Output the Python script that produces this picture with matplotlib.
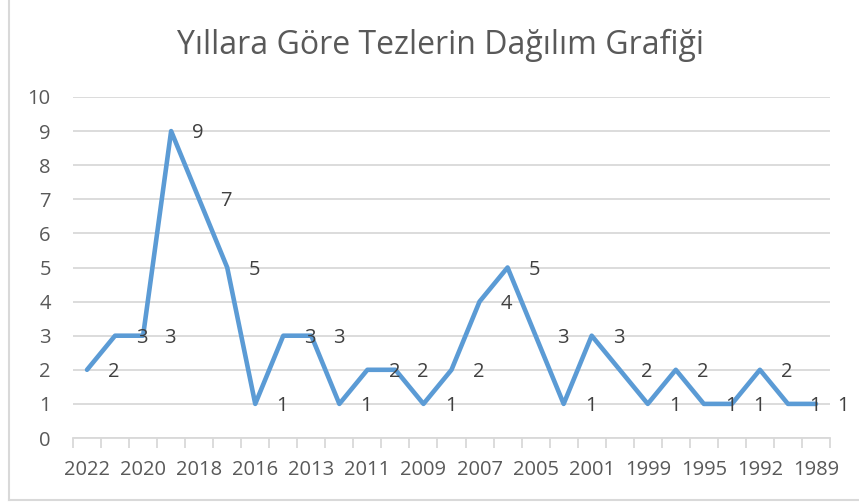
import matplotlib.pyplot as plt
from matplotlib.lines import Line2D

# data (ara yıllar tahmini, grafikte yalnızca her ikinci etiket görünür)
years = ['2022', '2021', '2020', '2019', '2018', '2017', '2016', '2014', '2013',
         '2012', '2011', '2010', '2009', '2008', '2007', '2006', '2005', '2003',
         '2001', '2000', '1999', '1997', '1995', '1993', '1992', '1990', '1989']
counts = [2, 3, 3, 9, 7, 5, 1, 3, 3, 1, 2, 2, 1, 2, 4, 5, 3, 1, 3, 2, 1, 2, 1, 1, 2, 1, 1]

plt.rcParams['font.family'] = ['Open Sans', 'DejaVu Sans']
text_color = '#595959'
grid_color = '#D9D9D9'

fig = plt.figure(figsize=(8.59, 5.04), dpi=100)
ax = fig.add_axes([73 / 859, 66 / 504, 757 / 859, 341 / 504])

x = list(range(len(years)))
ax.plot(x, counts, color='#5B9BD5', linewidth=3.3, solid_joinstyle='round',
        solid_capstyle='round', zorder=3)

# veri etiketleri (sağda)
for xi, v in zip(x, counts):
    ax.annotate(str(v), (xi, v), xytext=(19.5, -1.5), textcoords='offset points',
                ha='center', va='center', fontsize=14.5, color='#404040',
                annotation_clip=False)

ax.set_xlim(-0.5, len(years) - 0.5)
ax.set_ylim(0, 10)
ax.set_yticks(range(0, 11))
ax.yaxis.grid(True, color=grid_color, linewidth=1.3)
ax.set_axisbelow(True)

ax.set_xticks(x[::2])
ax.set_xticklabels(years[::2])
ax.set_xticks([i - 0.5 for i in range(len(years) + 1)], minor=True)
ax.tick_params(axis='x', which='major', length=0, pad=16, labelsize=14.5,
               labelcolor=text_color)
ax.tick_params(axis='x', which='minor', length=7, width=1.3, color=grid_color)
ax.tick_params(axis='y', length=0, pad=16, labelsize=14.5, labelcolor=text_color)

for s in ['top', 'right', 'left']:
    ax.spines[s].set_visible(False)
ax.spines['bottom'].set_color(grid_color)
ax.spines['bottom'].set_linewidth(1.3)

fig.text(0.513, 0.91, 'Yıllara Göre Tezlerin Dağılım Grafiği', ha='center',
         va='center', fontsize=23, color=text_color)

# dış çerçeve
fig.add_artist(Line2D([8.5 / 859, 8.5 / 859], [4 / 504, 1], color=grid_color,
                      linewidth=1.5, transform=fig.transFigure))
fig.add_artist(Line2D([8.5 / 859, 1], [4 / 504, 4 / 504], color=grid_color,
                      linewidth=1.5, transform=fig.transFigure))

fig.savefig('out.png', dpi=100)
